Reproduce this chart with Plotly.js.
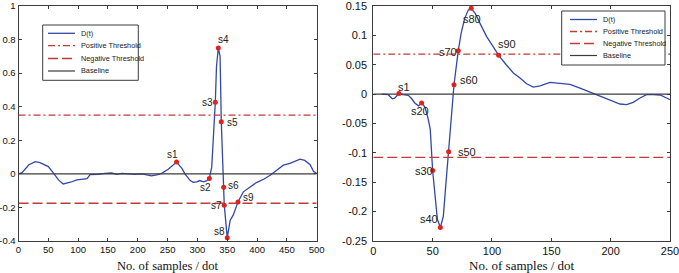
<!DOCTYPE html>
<html>
<head>
<meta charset="utf-8">
<script src="https://cdn.plot.ly/plotly-3.0.1.min.js"></script>
<style>
  html, body { margin: 0; padding: 0; background: #ffffff; }
  #chart { width: 679px; height: 273px; }
</style>
</head>
<body>
<div id="chart"></div>
<script>
// ---- Left panel: D(t) over 0..500 samples ----
const leftX = [0, 6, 17, 28, 36, 45, 50, 59, 67, 75, 87, 98, 109, 115, 120, 134, 145, 156, 165, 173,
  184, 195, 207, 215, 223, 232, 240, 251, 257, 265, 274, 279, 288, 293, 299, 304, 310, 316, 320, 324,
  330, 332, 335, 338, 340, 344, 345, 350, 355, 360, 368, 377, 388, 399, 411, 422, 433, 444, 455, 461,
  472, 480, 489, 495, 500];
const leftY = [0, 0.007, 0.053, 0.073, 0.067, 0.049, 0.043, 0.003, -0.036, -0.06, -0.05, -0.036, -0.03, -0.028, -0.004, -0.003, 0.003, 0.005, -0.003, 0.003,
  0, -0.003, 0, -0.006, -0.012, -0.006, 0.003, 0.027, 0.043, 0.07, 0.033, 0, -0.04, -0.05, -0.048, -0.04, -0.048, -0.04, -0.027, 0.04,
  0.427, 0.64, 0.75, 0.70, 0.31, -0.08, -0.187, -0.38, -0.276, -0.246, -0.167, -0.107, -0.078, -0.052, -0.032, -0.008, 0.022, 0.052, 0.062, 0.07,
  0.088, 0.08, 0.055, 0.013, 0.005];
const leftPosThreshold = 0.35;
const leftNegThreshold = -0.175;
const leftPointNames = ['s1', 's2', 's3', 's4', 's5', 's6', 's7', 's8', 's9'];
const leftPointX = [265, 320, 330, 335, 340, 344, 345, 350, 368];
const leftPointY = [0.07, -0.027, 0.427, 0.75, 0.31, -0.08, -0.187, -0.38, -0.167];
const leftXTicks = [0, 50, 100, 150, 200, 250, 300, 350, 400, 450, 500];
const leftYTicks = [-0.4, -0.2, 0, 0.2, 0.4, 0.6, 0.8, 1];
const leftYTickText = ['-0.4', '-0.2', '0', '0.2', '0.4', '0.6', '0.8', '1'];

// ---- Right panel: D(t) over 0..250 samples ----
const rightX = [7, 12.6, 16, 18, 21.6, 25, 29.5, 32, 35, 38, 40.7, 43.5, 46, 48, 50, 52, 54, 56.5, 59, 61,
  63.5, 66, 68, 71.6, 74, 77, 80, 82.5, 86, 90, 95.5, 101, 105.6, 112, 118, 123.6, 129.2, 134.8, 140.5, 148.9,
  157.3, 165.7, 174.2, 182.6, 191, 199.4, 207.9, 213.5, 219, 224.7, 230.3, 236, 241.6, 247.2, 250];
const rightY = [0, -0.001, -0.008, -0.007, 0.001, -0.001, -0.002, -0.007, -0.015, -0.02, -0.015, -0.022, -0.04, -0.06, -0.13, -0.174, -0.213, -0.227, -0.208, -0.157,
  -0.098, -0.032, 0.016, 0.074, 0.1035, 0.129, 0.143, 0.146, 0.137, 0.12, 0.098, 0.081, 0.066, 0.05, 0.036, 0.0273, 0.0177, 0.012, 0.014, 0.0199,
  0.0188, 0.0165, 0.0103, 0.0036, -0.0039, -0.0107, -0.0168, -0.018, -0.014, -0.0066, -0.001, -0.001, -0.0015, -0.0066, -0.0095];
const rightPosThreshold = 0.068;
const rightNegThreshold = -0.1075;
const rightPointNames = ['s1', 's20', 's30', 's40', 's50', 's60', 's70', 's80', 's90'];
const rightPointX = [21.6, 40.7, 50, 56.5, 63.5, 68, 71.6, 82.5, 105.6];
const rightPointY = [0.001, -0.015, -0.13, -0.227, -0.098, 0.016, 0.074, 0.146, 0.066];
const rightXTicks = [0, 50, 100, 150, 200, 250];
const rightYTicks = [-0.25, -0.2, -0.15, -0.1, -0.05, 0, 0.05, 0.1, 0.15];
const rightYTickText = ['-0.25', '-0.2', '-0.15', '-0.1', '-0.05', '0', '0.05', '0.1', '0.15'];

const legendNames = ['D(t)', 'Positive Threshold', 'Negative Threshold', 'Baseline'];
const xTitle = 'No. of samples / dot';

// ---- styling ----
const W = 679, H = 273;
const BLUE = '#3347a6';
const DARKRED = '#c23a3a';
const MARKRED = '#e3201c';
const GRAY = '#3c3c3c';
const DASHDOT = '7px,3px,2px,3px';
const LONGDASH = '10px,4px';
const SANS = 'Liberation Sans, Arial, sans-serif';
const SERIF = 'Liberation Serif, Times New Roman, serif';

// label offsets (pixels) beside each marked point
const leftLabelShift = [[-4, 8], [-4, -9], [-8, 0], [5, 8], [11, -1], [10, 2], [-8, 0], [-8, 6], [11, 4]];
const rightLabelShift = [[5, 7], [-2, -8], [-9, 0], [-11, 8], [18, 0], [15, 5], [-10, -1], [1, -11], [8, 11]];

function px(x) { return x / W; }
function py(y) { return 1 - y / H; }

const styles = [
  { color: BLUE, dash: 'solid', width: 1.3 },
  { color: DARKRED, dash: DASHDOT, width: 1.3 },
  { color: DARKRED, dash: LONGDASH, width: 1.3 },
  { color: GRAY, dash: 'solid', width: 1.2 }
];

function panelTraces(xs, ys, pos, neg, pX, pY, xMax, xa, ya) {
  const span = [0, xMax];
  return [
    { x: xs, y: ys, mode: 'lines', line: { color: styles[0].color, width: styles[0].width }, xaxis: xa, yaxis: ya, name: legendNames[0] },
    { x: span, y: [pos, pos], mode: 'lines', line: { color: styles[1].color, width: styles[1].width, dash: styles[1].dash }, xaxis: xa, yaxis: ya, name: legendNames[1] },
    { x: span, y: [neg, neg], mode: 'lines', line: { color: styles[2].color, width: styles[2].width, dash: styles[2].dash }, xaxis: xa, yaxis: ya, name: legendNames[2] },
    { x: span, y: [0, 0], mode: 'lines', line: { color: styles[3].color, width: styles[3].width }, xaxis: xa, yaxis: ya, name: legendNames[3] },
    { x: pX, y: pY, mode: 'markers', marker: { color: MARKRED, size: 5 }, xaxis: xa, yaxis: ya, hoverinfo: 'x+y' }
  ];
}

const traces = []
  .concat(panelTraces(leftX, leftY, leftPosThreshold, leftNegThreshold, leftPointX, leftPointY, 500, 'x', 'y'))
  .concat(panelTraces(rightX, rightY, rightPosThreshold, rightNegThreshold, rightPointX, rightPointY, 250, 'x2', 'y2'));

// point labels
const annotations = [];
function addLabels(names, xs, ys, shifts, xref, yref, size) {
  names.forEach((n, i) => {
    annotations.push({
      x: xs[i], y: ys[i], xref: xref, yref: yref, text: n, showarrow: false,
      xshift: shifts[i][0], yshift: shifts[i][1], xanchor: 'center', yanchor: 'middle',
      font: { family: SANS, size: size, color: '#222' }
    });
  });
}
addLabels(leftPointNames, leftPointX, leftPointY, leftLabelShift, 'x', 'y', 10);
addLabels(rightPointNames, rightPointX, rightPointY, rightLabelShift, 'x2', 'y2', 11);

// boxed legends
const shapes = [];
function addLegend(x0, y0, x1, y1, rowYs, lineX0, lineX1, textX) {
  shapes.push({ type: 'rect', xref: 'paper', yref: 'paper', x0: px(x0), x1: px(x1), y0: py(y1), y1: py(y0),
    line: { color: GRAY, width: 1 }, fillcolor: '#ffffff', layer: 'above' });
  rowYs.forEach((ry, i) => {
    shapes.push({ type: 'line', xref: 'paper', yref: 'paper', x0: px(lineX0), x1: px(lineX1), y0: py(ry), y1: py(ry),
      line: { color: styles[i].color, width: styles[i].width, dash: styles[i].dash }, layer: 'above' });
    annotations.push({ xref: 'paper', yref: 'paper', x: px(textX), y: py(ry), text: legendNames[i], showarrow: false,
      xanchor: 'left', yanchor: 'middle',
      font: { family: SANS, size: 7.3, color: '#1a1a1a' } });
  });
}
addLegend(42.7, 25, 138.3, 80.3, [33.3, 45.7, 58.5, 71], 48, 75, 79);
addLegend(561.7, 11, 665, 65, [19.5, 31.5, 43.5, 55.5], 570, 597, 601);

function axisBase(extra) {
  return Object.assign({
    showline: true, mirror: 'ticks', linecolor: GRAY, linewidth: 1,
    ticks: 'inside', ticklen: 3, tickcolor: GRAY, tickwidth: 1,
    showgrid: false, zeroline: false, fixedrange: true,
    ticklabeloverflow: 'allow',
    tickfont: { family: SANS, size: 9.5, color: '#111' }
  }, extra);
}
const plotTop = 6, plotBottom = 241;
const yDomain = [py(plotBottom), py(plotTop)];

const layout = {
  width: W, height: H,
  margin: { l: 0, r: 0, t: 0, b: 0 },
  paper_bgcolor: '#ffffff', plot_bgcolor: '#ffffff',
  showlegend: false,
  xaxis: axisBase({ domain: [px(18.5), px(316.7)], range: [0, 500], anchor: 'y',
    tickmode: 'array', tickvals: leftXTicks,
    title: { text: xTitle, font: { family: SERIF, size: 12.5, color: '#111' } } }),
  yaxis: axisBase({ domain: yDomain, range: [-0.4, 1], anchor: 'x',
    tickmode: 'array', tickvals: leftYTicks, ticktext: leftYTickText }),
  xaxis2: axisBase({ domain: [px(373.3), px(670)], range: [0, 250], anchor: 'y2',
    tickmode: 'array', tickvals: rightXTicks,
    tickfont: { family: SANS, size: 11, color: '#111' },
    title: { text: xTitle, font: { family: SERIF, size: 13, color: '#111' } } }),
  yaxis2: axisBase({ domain: yDomain, range: [-0.25, 0.15], anchor: 'x2',
    tickmode: 'array', tickvals: rightYTicks, ticktext: rightYTickText,
    ticklabelstandoff: 3,
    tickfont: { family: SANS, size: 11, color: '#111' } }),
  shapes: shapes,
  annotations: annotations
};

Plotly.newPlot('chart', traces, layout, { staticPlot: true, displayModeBar: false });
</script>
</body>
</html>
